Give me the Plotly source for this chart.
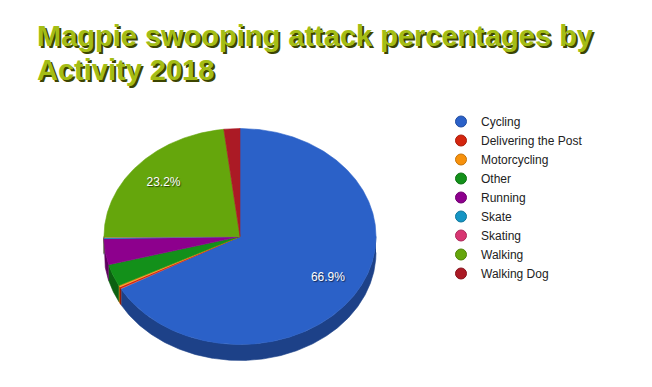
import numpy as np
import plotly.graph_objects as go

# ---- data ----
categories = ["Cycling", "Delivering the Post", "Motorcycling", "Other", "Running",
              "Skate", "Skating", "Walking", "Walking Dog"]
values = [66.9, 0.3, 0.3, 3.3, 3.9, 0.1, 0.1, 23.2, 1.9]
colors = ["#2b61c8", "#d4250e", "#f7910c", "#13901a", "#8d008d",
          "#1595c4", "#d83672", "#65a60c", "#ab1a25"]
title_lines = ["Magpie swooping attack percentages by", "Activity 2018"]

# ---- geometry / style ----
W, H = 652, 387
CX, CY, RX, RY, DEPTH = 240, 236.5, 136, 108, 16
LABEL_R = 0.75


def darken(hexc, f=0.68):
    r, g, b = int(hexc[1:3], 16), int(hexc[3:5], 16), int(hexc[5:7], 16)
    return "#%02x%02x%02x" % (int(r * f), int(g * f), int(b * f))


def arc(t0, t1, n=None):
    if n is None:
        n = max(3, int(abs(t1 - t0) * 2) + 2)
    t = np.radians(np.linspace(t0, t1, n))
    return CX + RX * np.sin(t), CY - RY * np.cos(t)


total = float(sum(values))
ends = np.cumsum(values) / total * 360.0
starts = np.concatenate([[0.0], ends[:-1]])

fig = go.Figure()

# side walls (front half, 90..270 deg clockwise from top)
for s, e, c in zip(starts, ends, colors):
    lo, hi = max(s, 90.0), min(e, 270.0)
    if hi > lo:
        xs, ys = arc(lo, hi)
        px = np.concatenate([xs, xs[::-1]])
        py = np.concatenate([ys, (ys + DEPTH)[::-1]])
        fig.add_trace(go.Scatter(x=px, y=py, fill="toself", mode="lines",
                                 fillcolor=darken(c), line=dict(color=darken(c), width=0.6),
                                 hoverinfo="skip", showlegend=False))

# top surfaces
for s, e, c in zip(starts, ends, colors):
    xs, ys = arc(s, e)
    px = np.concatenate([[CX], xs, [CX]])
    py = np.concatenate([[CY], ys, [CY]])
    fig.add_trace(go.Scatter(x=px, y=py, fill="toself", mode="lines",
                             fillcolor=c, line=dict(color=c, width=0.6),
                             hoverinfo="skip", showlegend=False))

# percentage labels for large slices
lx, ly, lt = [], [], []
for s, e, v in zip(starts, ends, values):
    pct = v / total * 100
    if pct >= 5:
        m = np.radians((s + e) / 2)
        lx.append(CX + LABEL_R * RX * np.sin(m))
        ly.append(CY - LABEL_R * RY * np.cos(m))
        lt.append("%.1f%%" % pct)
fig.add_trace(go.Scatter(x=lx, y=ly, text=lt, mode="text",
                         textfont=dict(family="Liberation Sans, Arial, sans-serif", size=12,
                                       color="white", shadow="1px 1px 1px rgba(0,0,0,0.6)"),
                         hoverinfo="skip", showlegend=False))

# legend entries
for name, c in zip(categories, colors):
    fig.add_trace(go.Scatter(x=[None], y=[None], mode="markers", name=name,
                             marker=dict(symbol="circle", size=11, color=c,
                                         line=dict(color=darken(c, 0.8), width=1))))

title_font = dict(family="Liberation Sans, Arial, sans-serif", size=29,
                  color="#a4bd15", weight="bold", shadow="2px 2px 0px #3c4500")
for line, yc in zip(title_lines, [36, 70]):
    fig.add_annotation(text=line, x=35 / W, xref="paper", xanchor="left",
                       y=1 - yc / H, yref="paper", yanchor="middle",
                       showarrow=False, font=title_font, align="left")

fig.update_layout(
    width=W, height=H,
    margin=dict(l=0, r=0, t=0, b=0),
    paper_bgcolor="white", plot_bgcolor="white",
    xaxis=dict(range=[0, W], visible=False, fixedrange=True),
    yaxis=dict(range=[H, 0], visible=False, fixedrange=True),
    legend=dict(x=441 / W, y=1 - 107 / H, xanchor="left", yanchor="top",
                font=dict(family="Liberation Sans, Arial, sans-serif", size=12, color="#222222"),
                bgcolor="rgba(0,0,0,0)", itemclick=False, itemdoubleclick=False),
    showlegend=True,
)

fig.write_html("out.html", config={"displayModeBar": False},
               post_script="document.body.style.margin='0px';")
